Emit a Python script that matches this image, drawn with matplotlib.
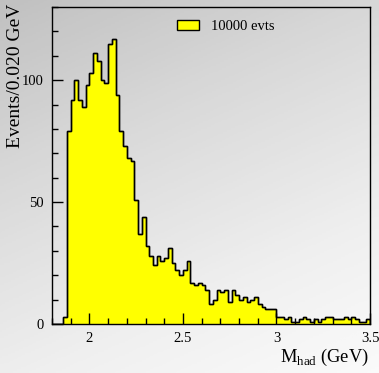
import numpy as np
import matplotlib
matplotlib.use('Agg')
import matplotlib.pyplot as plt
from matplotlib.ticker import MultipleLocator

plt.rcParams['font.family'] = 'Liberation Serif'
plt.rcParams['mathtext.fontset'] = 'custom'
plt.rcParams['mathtext.rm'] = 'Liberation Serif'

# ── data: counts per 0.020 GeV bin from 1.80 to 3.50 GeV ────
x_min, x_max, bin_width = 1.80, 3.50, 0.020
counts = [
    0, 0, 0, 3, 79, 92, 100, 92, 89, 98,
    103, 111, 108, 100, 99, 115, 117, 94, 79, 73,
    68, 67, 51, 37, 44, 32, 28, 24, 28, 26,
    27, 31, 25, 22, 20, 22, 26, 17, 16, 17,
    16, 14, 8, 10, 14, 13, 14, 9, 14, 12,
    10, 11, 9, 10, 11, 8, 7, 6, 6, 6,
    3, 3, 2, 3, 1, 1, 2, 3, 2, 1,
    2, 1, 2, 3, 3, 2, 2, 2, 3, 2,
    3, 2, 1, 1, 2,
]
legend_label = '10000 evts'
edges = np.linspace(x_min, x_max, len(counts) + 1)

fig = plt.figure(figsize=(3.79, 3.73), dpi=100)

# soft grey-to-white backdrop
bg = fig.add_axes([0, 0, 1, 1], zorder=-10)
gy, gx = np.mgrid[0:1:200j, 0:1:200j]
grad = 0.55 * gy + 0.25 * gx
bg.imshow(grad, cmap='Greys_r', vmin=-1.6, vmax=0.9, aspect='auto',
          extent=[0, 1, 0, 1], origin='upper')
bg.axis('off')

ax = fig.add_axes([52 / 379, 49 / 373, 318 / 379, 317 / 373])
ax.set_facecolor('none')

ax.stairs(counts, edges, fill=True, facecolor='#ffff00',
          edgecolor='black', linewidth=1.0, label=legend_label)
ax.stairs(counts, edges, color='black', linewidth=1.0)

ax.set_xlim(x_min, x_max)
ax.set_ylim(0, 130)
ax.xaxis.set_major_locator(MultipleLocator(0.5))
ax.xaxis.set_minor_locator(MultipleLocator(0.1))
ax.yaxis.set_major_locator(MultipleLocator(50))
ax.yaxis.set_minor_locator(MultipleLocator(10))
ax.set_xticks([2, 2.5, 3, 3.5])
ax.set_xticklabels(['2', '2.5', '3', '3.5'])
ax.tick_params(which='both', direction='in', top=False, right=False,
               labelsize=10.5, width=1.0)
ax.tick_params(which='major', length=8, pad=6)
ax.tick_params(which='minor', length=4)
for s in ax.spines.values():
    s.set_linewidth(1.0)

ax.legend(loc='upper center', bbox_to_anchor=(0.547, 1.0), frameon=False,
          fontsize=10.5, handlelength=1.5, handleheight=0.7)

fig.text(15 / 379, 1 - 4 / 373, 'Events/0.020 GeV', rotation=90,
         ha='center', va='top', fontsize=14)
fig.text(369 / 379, 1 - 357 / 373, r'M$_{\mathrm{had}}$ (GeV)',
         ha='right', va='center', fontsize=13.3)

fig.savefig('out.png', dpi=100)
